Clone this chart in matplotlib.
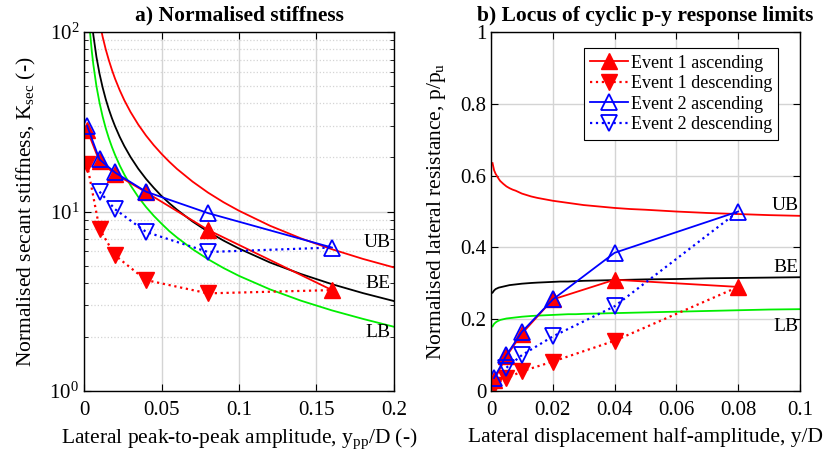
import numpy as np
import matplotlib
matplotlib.use('Agg')
from matplotlib import pyplot as plt
from matplotlib.ticker import LogLocator, NullFormatter

plt.rcParams['font.family'] = ['Liberation Serif', 'DejaVu Serif']
plt.rcParams['mathtext.fontset'] = 'custom'
plt.rcParams['mathtext.rm'] = 'Liberation Serif'
plt.rcParams['mathtext.default'] = 'regular'

# bounding curves (right panel), p/pu against y/D
yd_curve = [0.0005, 0.001, 0.0015, 0.002, 0.0025, 0.003, 0.004, 0.005, 0.006, 0.007,
            0.008, 0.009, 0.01, 0.0115, 0.013, 0.015, 0.0175, 0.02, 0.0225, 0.025,
            0.0275, 0.03, 0.035, 0.04, 0.045, 0.05, 0.06, 0.07, 0.08, 0.09, 0.1]
p_UB = [0.635, 0.615, 0.605, 0.598, 0.591, 0.585, 0.577, 0.57, 0.565, 0.561,
        0.558, 0.554, 0.55, 0.546, 0.542, 0.538, 0.534, 0.53, 0.527, 0.524,
        0.521, 0.518, 0.514, 0.51, 0.507, 0.505, 0.5, 0.496, 0.493, 0.49, 0.488]
p_BE = [0.274, 0.28, 0.284, 0.286, 0.288, 0.289, 0.291, 0.293, 0.295, 0.296,
        0.297, 0.298, 0.299, 0.3, 0.301, 0.302, 0.303, 0.304, 0.305, 0.305,
        0.306, 0.307, 0.308, 0.309, 0.31, 0.311, 0.312, 0.314, 0.315, 0.316, 0.317]
p_LB = [0.18, 0.187, 0.191, 0.194, 0.196, 0.198, 0.2, 0.202, 0.203, 0.204,
        0.205, 0.206, 0.207, 0.208, 0.209, 0.21, 0.211, 0.212, 0.213, 0.214,
        0.214, 0.215, 0.216, 0.217, 0.218, 0.219, 0.221, 0.223, 0.225, 0.227, 0.228]

# left panel markers: secant stiffness against ypp/D
ypp = [0.002, 0.01, 0.02, 0.04, 0.08, 0.16]
K_e1_asc = [28.5, 19.0, 16.2, 12.8, 7.9, 3.65]
K_e1_desc = [18.3, 8.0, 5.7, 4.15, 3.5, 3.65]
K_e2_asc = [30.0, 19.5, 16.5, 12.9, 9.8, 6.3]
ypp_e2_desc = [0.01, 0.02, 0.04, 0.08, 0.16]
K_e2_desc = [12.9, 10.3, 7.7, 5.95, 6.3]

# right panel markers: p/pu against y/D
yd = [0.001, 0.005, 0.01, 0.02, 0.04, 0.08]
p_e1_asc = [0.03, 0.097, 0.16, 0.255, 0.31, 0.29]
p_e1_desc = [0.018, 0.035, 0.055, 0.082, 0.14, 0.29]
p_e2_asc = [0.036, 0.1, 0.165, 0.255, 0.385, 0.50]
yd_e2_desc = [0.005, 0.01, 0.02, 0.04, 0.08]
p_e2_desc = [0.065, 0.1, 0.152, 0.236, 0.50]

green = '#00ee00'
grey = '#d4d4d4'
ms = 11
fs = 15.5

fig = plt.figure(figsize=(8.27, 4.61), dpi=100)
ax1 = fig.add_axes([0.1016, 0.1518, 0.3748, 0.7787])
ax2 = fig.add_axes([0.5937, 0.1518, 0.3736, 0.7787])

# ---- a) stiffness
yc = np.array(yd_curve)
for p, c in [(p_UB, 'r'), (p_BE, 'k'), (p_LB, green)]:
    ax1.plot(2 * yc, np.array(p) / yc, color=c, lw=1.3)
ax1.plot(ypp, K_e1_asc, 'r-', marker='^', ms=ms, mfc='r', mec='r', lw=1.3)
ax1.plot(ypp, K_e1_desc, 'r:', marker='v', ms=ms, mfc='r', mec='r', lw=1.6,
         markevery=list(range(len(ypp) - 1)))
ax1.plot(ypp, K_e2_asc, 'b-', marker='^', ms=ms, mfc='none', mec='b', mew=1.3, lw=1.3)
ax1.plot(ypp_e2_desc, K_e2_desc, 'b:', marker='v', ms=ms, mfc='none', mec='b', mew=1.3, lw=1.6,
         markevery=list(range(len(ypp_e2_desc) - 1)))
ax1.set_yscale('log')
ax1.set_xlim(0, 0.2)
ax1.set_ylim(1, 100)
ax1.set_xticks([0, 0.05, 0.1, 0.15, 0.2])
ax1.set_xticklabels(['0', '0.05', '0.1', '0.15', '0.2'])
ax1.yaxis.set_minor_locator(LogLocator(base=10, subs=np.arange(2, 10)))
ax1.yaxis.set_minor_formatter(NullFormatter())
ax1.grid(True, which='major', color=grey, lw=1.0, ls='-')
ax1.grid(True, which='minor', axis='y', color=grey, lw=0.9, ls=':')
ax1.text(0.198, 6.7, 'UB', ha='right', va='center', fontsize=14)
ax1.text(0.198, 3.95, 'BE', ha='right', va='center', fontsize=14)
ax1.text(0.198, 2.13, 'LB', ha='right', va='center', fontsize=14)
ax1.set_title('a) Normalised stiffness', fontsize=fs, fontweight='bold', pad=8)
ax1.set_xlabel('Lateral peak-to-peak amplitude, y$_{pp}$/D (-)', fontsize=fs, labelpad=5)
ax1.set_ylabel('Normalised secant stiffness, K$_{sec}$ (-)', fontsize=fs, labelpad=8)

# ---- b) locus
ax2.plot(yd_curve, p_UB, color='r', lw=1.3)
ax2.plot(yd_curve, p_BE, color='k', lw=1.3)
ax2.plot(yd_curve, p_LB, color=green, lw=1.3)
last = list(range(len(yd) - 1))
ax2.plot(yd, p_e1_asc, 'r-', marker='^', ms=ms, mfc='r', mec='r', lw=1.3, label='Event 1 ascending')
ax2.plot(yd, p_e1_desc, 'r:', marker='v', ms=ms, mfc='r', mec='r', lw=1.6, markevery=last,
         label='Event 1 descending')
ax2.plot(yd, p_e2_asc, 'b-', marker='^', ms=ms, mfc='none', mec='b', mew=1.3, lw=1.3, label='Event 2 ascending')
ax2.plot(yd_e2_desc, p_e2_desc, 'b:', marker='v', ms=ms, mfc='none', mec='b', mew=1.3, lw=1.6,
         markevery=list(range(len(yd_e2_desc) - 1)), label='Event 2 descending')
ax2.set_xlim(0, 0.1)
ax2.set_ylim(0, 1)
ax2.set_xticks([0, 0.02, 0.04, 0.06, 0.08, 0.1])
ax2.set_xticklabels(['0', '0.02', '0.04', '0.06', '0.08', '0.1'])
ax2.set_yticks([0, 0.2, 0.4, 0.6, 0.8, 1])
ax2.set_yticklabels(['0', '0.2', '0.4', '0.6', '0.8', '1'])
ax2.grid(True, color=grey, lw=1.0)
ax2.text(0.0995, 0.517, 'UB', ha='right', va='center', fontsize=14)
ax2.text(0.0995, 0.345, 'BE', ha='right', va='center', fontsize=14)
ax2.text(0.0995, 0.18, 'LB', ha='right', va='center', fontsize=14)
leg = ax2.legend(loc='upper right', bbox_to_anchor=(0.93, 0.955), fontsize=13,
                 handlelength=2.1, fancybox=False, framealpha=1, edgecolor='k',
                 borderpad=0.35, labelspacing=0.2, handletextpad=0.15, borderaxespad=0)
leg.get_frame().set_linewidth(0.8)
ax2.set_title('b) Locus of cyclic p-y response limits', fontsize=fs, fontweight='bold', pad=8)
ax2.set_xlabel('Lateral displacement half-amplitude, y/D', fontsize=fs, labelpad=5)
ax2.set_ylabel('Normalised lateral resistance, p/p$_u$', fontsize=fs, labelpad=9)

for ax in (ax1, ax2):
    ax.set_axisbelow(True)
    ax.tick_params(which='both', direction='in', top=True, right=True, labelsize=15)
    ax.tick_params(axis='x', pad=7)
    ax.tick_params(which='major', length=5)
    ax.tick_params(which='minor', length=3)
    for s in ax.spines.values():
        s.set_linewidth(1.0)

fig.savefig('out.png', dpi=100)
